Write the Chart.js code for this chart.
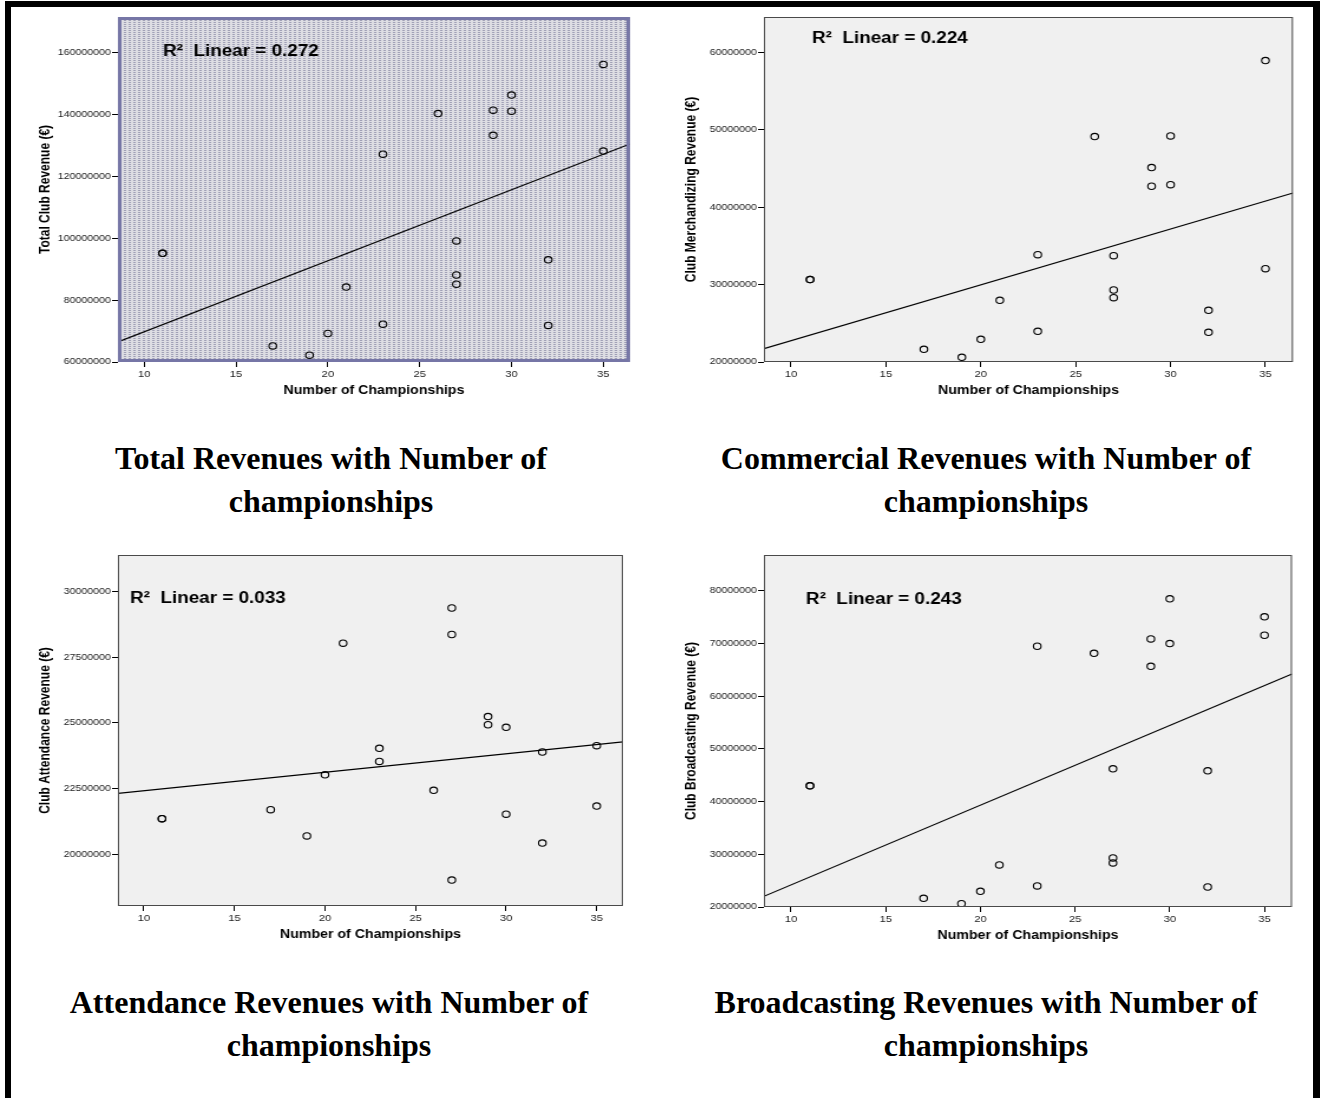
<!DOCTYPE html>
<html>
<head>
<meta charset="utf-8">
<script src="https://cdn.jsdelivr.net/npm/chart.js@4.4.1/dist/chart.umd.min.js"></script>
<style>
  body { margin: 0; background: #fff; width: 1322px; height: 1098px; position: relative; overflow: hidden; }
  .bar { position: absolute; background: #000; }
  .panel { position: absolute; transform-origin: 0 0; }
  .cap { position: absolute; font-family: "Liberation Serif", "Times New Roman", serif; font-weight: bold;
         font-size: 32px; line-height: 43px; text-align: center; color: #000; white-space: nowrap; }
</style>
</head>
<body>
<div class="bar" style="left:5px;top:1px;width:1315px;height:6px"></div>
<div class="bar" style="left:5px;top:1px;width:6px;height:1097px"></div>
<div class="bar" style="left:1313px;top:1px;width:7px;height:1097px"></div>

<div class="cap" style="left:20px;top:437px;width:622px">Total Revenues with Number of<br>championships</div>
<div class="cap" style="left:666px;top:437px;width:640px">Commercial Revenues with Number of<br>championships</div>
<div class="cap" style="left:20px;top:981px;width:618px">Attendance Revenues with Number of<br>championships</div>
<div class="cap" style="left:666px;top:981px;width:640px">Broadcasting Revenues with Number of<br>championships</div>

<script>
// number of championships per club (x for all four plots)
const championships = [11, 11, 17, 19, 20, 21, 23, 23, 26, 27, 27, 27, 29, 29, 30, 30, 32, 32, 35, 35];

// revenues in euros, same club order
const totalRevenue = [95.1e6, 95.1e6, 65.2e6, 62.2e6, 69.2e6, 84.2e6, 127.1e6, 72.2e6, 140.2e6, 99.1e6,
                      88.1e6, 85.1e6, 141.3e6, 133.2e6, 146.2e6, 141.0e6, 93.0e6, 71.8e6, 156.1e6, 128.1e6];
const merchRevenue = [30.65e6, 30.65e6, 21.64e6, 20.60e6, 22.93e6, 27.97e6, 33.88e6, 23.97e6, 49.14e6, 33.75e6,
                      29.31e6, 28.32e6, 45.13e6, 42.72e6, 42.93e6, 49.22e6, 26.68e6, 23.84e6, 58.97e6, 32.07e6];
const attendRevenue = [21.35e6, 21.35e6, 21.69e6, 20.69e6, 23.02e6, 28.04e6, 23.53e6, 24.03e6, 22.43e6, 19.01e6,
                       29.38e6, 28.37e6, 25.24e6, 24.93e6, 24.83e6, 21.52e6, 20.42e6, 23.89e6, 21.83e6, 24.13e6];
const broadRevenue = [43.00e6, 43.00e6, 21.65e6, 20.63e6, 22.98e6, 27.98e6, 69.48e6, 23.99e6, 68.15e6, 46.23e6,
                      29.31e6, 28.36e6, 70.88e6, 65.68e6, 78.48e6, 69.99e6, 45.85e6, 23.80e6, 75.06e6, 71.57e6];

// fit lines, values at the left and right edge of the x axis
const xRange = [8.57, 36.45];
const totalFit = [66.5e6, 130.4e6];
const merchFit = [21.72e6, 41.85e6];
const attendFit = [22.31e6, 24.28e6];
const broadFit = [22.03e6, 64.22e6];

const rSquared = ['0.272', '0.224', '0.033', '0.243'];

const xTicks = [10, 15, 20, 25, 30, 35];
const totalTicks = [60e6, 80e6, 100e6, 120e6, 140e6, 160e6];
const merchTicks = [20e6, 30e6, 40e6, 50e6, 60e6];
const attendTicks = [20e6, 22.5e6, 25e6, 27.5e6, 30e6];
const broadTicks = [20e6, 30e6, 40e6, 50e6, 60e6, 70e6, 80e6];

const yRanges = [[60e6, 171.4e6], [20e6, 64.6e6], [18.02e6, 31.4e6], [20e6, 86.8e6]];

const STRETCH = 1.18;   // the spss graphs are a bit wider than tall in the source
const FONT = '"Liberation Sans", Arial, sans-serif';

// dotted fill of the first graph
const tile = document.createElement('canvas');
tile.width = 4; tile.height = 2;
const tctx = tile.getContext('2d');
tctx.fillStyle = '#dddde3'; tctx.fillRect(0, 0, 4, 2);
tctx.fillStyle = '#a0a0b6'; tctx.fillRect(0, 0, 2, 1);

const panels = [
  { y: totalRevenue, fit: totalFit, ticks: totalTicks, range: yRanges[0], r2: rSquared[0],
    yTitle: 'Total Club Revenue (\u20ac)', area: [118, 17, 630, 362], label: [45, 35], dotted: true },
  { y: merchRevenue, fit: merchFit, ticks: merchTicks, range: yRanges[1], r2: rSquared[1],
    yTitle: 'Club Merchandizing Revenue (\u20ac)', area: [764, 17, 1293, 362], label: [48, 22] },
  { y: attendRevenue, fit: attendFit, ticks: attendTicks, range: yRanges[2], r2: rSquared[2],
    yTitle: 'Club Attendance Revenue (\u20ac)', area: [118, 555, 623, 906], label: [12, 44] },
  { y: broadRevenue, fit: broadFit, ticks: broadTicks, range: yRanges[3], r2: rSquared[3],
    yTitle: 'Club Broadcasting Revenue (\u20ac)', area: [764, 555, 1292, 907], label: [42, 45] }
];

const framePlugin = {
  id: 'frame',
  beforeDatasetsDraw(chart, args, o) {
    const a = chart.chartArea, ctx = chart.ctx;
    ctx.save();
    ctx.fillStyle = o.dotted ? ctx.createPattern(tile, 'repeat') : '#f0f0f0';
    ctx.fillRect(a.left, a.top, a.right - a.left, a.bottom - a.top);
    ctx.restore();
  },
  afterDatasetsDraw(chart, args, o) {
    const a = chart.chartArea, ctx = chart.ctx;
    ctx.save();
    if (o.dotted) {
      ctx.strokeStyle = '#7676a6'; ctx.lineWidth = 3;
      ctx.strokeRect(a.left + 1.5, a.top + 1.5, a.right - a.left - 3, a.bottom - a.top - 3);
    } else {
      ctx.strokeStyle = '#4a4a4a'; ctx.lineWidth = 1;
      ctx.strokeRect(a.left + 0.5, a.top + 0.5, a.right - a.left - 1, a.bottom - a.top - 1);
    }
    ctx.fillStyle = '#000';
    ctx.font = 'bold 16px ' + FONT;
    ctx.textBaseline = 'middle';
    ctx.fillText('R\u00b2  Linear = ' + o.r2, a.left + o.label[0] / STRETCH, a.top + o.label[1]);
    ctx.restore();
  }
};

function makeChart(p) {
  const yw = 83, xh = 46, padTop = 9;
  const left = p.area[0] - yw * STRETCH;
  const top = p.area[1] - padTop;
  const innerRight = (p.area[2] - left) / STRETCH;
  const w = Math.ceil(innerRight) + 6;
  const h = p.area[3] - top + xh;

  const wrap = document.createElement('div');
  wrap.className = 'panel';
  wrap.style.left = left + 'px';
  wrap.style.top = top + 'px';
  wrap.style.transform = 'scaleX(' + STRETCH + ')';
  const cv = document.createElement('canvas');
  cv.width = w; cv.height = h;
  wrap.appendChild(cv);
  document.body.appendChild(wrap);

  const points = championships.map((c, i) => ({ x: c, y: p.y[i] }));
  const line = xRange.map((x, i) => ({ x: x, y: p.fit[i] }));

  new Chart(cv, {
    type: 'scatter',
    data: {
      datasets: [
        { data: points, pointRadius: 3.2, pointBorderWidth: 1.1, borderColor: '#000',
          backgroundColor: 'rgba(0,0,0,0)', pointStyle: 'circle' },
        { data: line, showLine: true, pointRadius: 0, borderColor: '#000', borderWidth: 1.2 }
      ]
    },
    options: {
      responsive: false,
      animation: false,
      devicePixelRatio: 1,
      layout: { padding: { top: padTop, left: 0, bottom: 0, right: w - innerRight } },
      plugins: {
        legend: { display: false },
        tooltip: { enabled: false },
        frame: { dotted: !!p.dotted, r2: p.r2, label: p.label }
      },
      scales: {
        x: {
          type: 'linear', min: xRange[0], max: xRange[1],
          afterBuildTicks: s => { s.ticks = xTicks.map(v => ({ value: v })); },
          afterFit: s => { s.height = xh; },
          grid: { drawOnChartArea: false, tickLength: 5, color: '#000', lineWidth: 1 },
          border: { display: false },
          ticks: { font: { size: 9.5, family: FONT }, color: '#222', padding: 2, maxRotation: 0, autoSkip: false },
          title: { display: true, text: 'Number of Championships', color: '#000',
                   font: { size: 12, weight: 'bold', family: FONT }, padding: { top: 0, bottom: 10 } }
        },
        y: {
          type: 'linear', min: p.range[0], max: p.range[1],
          afterBuildTicks: s => { s.ticks = p.ticks.map(v => ({ value: v })); },
          afterFit: s => { s.width = yw; },
          grid: { drawOnChartArea: false, tickLength: 5, color: '#000', lineWidth: 1 },
          border: { display: false },
          ticks: { font: { size: 9, family: FONT }, color: '#222', padding: 1, autoSkip: false,
                   callback: v => String(v) },
          title: { display: true, text: p.yTitle, color: '#000',
                   font: { size: 12, weight: 'bold', family: FONT }, padding: { top: 14, bottom: 0 } }
        }
      }
    },
    plugins: [framePlugin]
  });
}

panels.forEach(makeChart);
</script>
</body>
</html>
